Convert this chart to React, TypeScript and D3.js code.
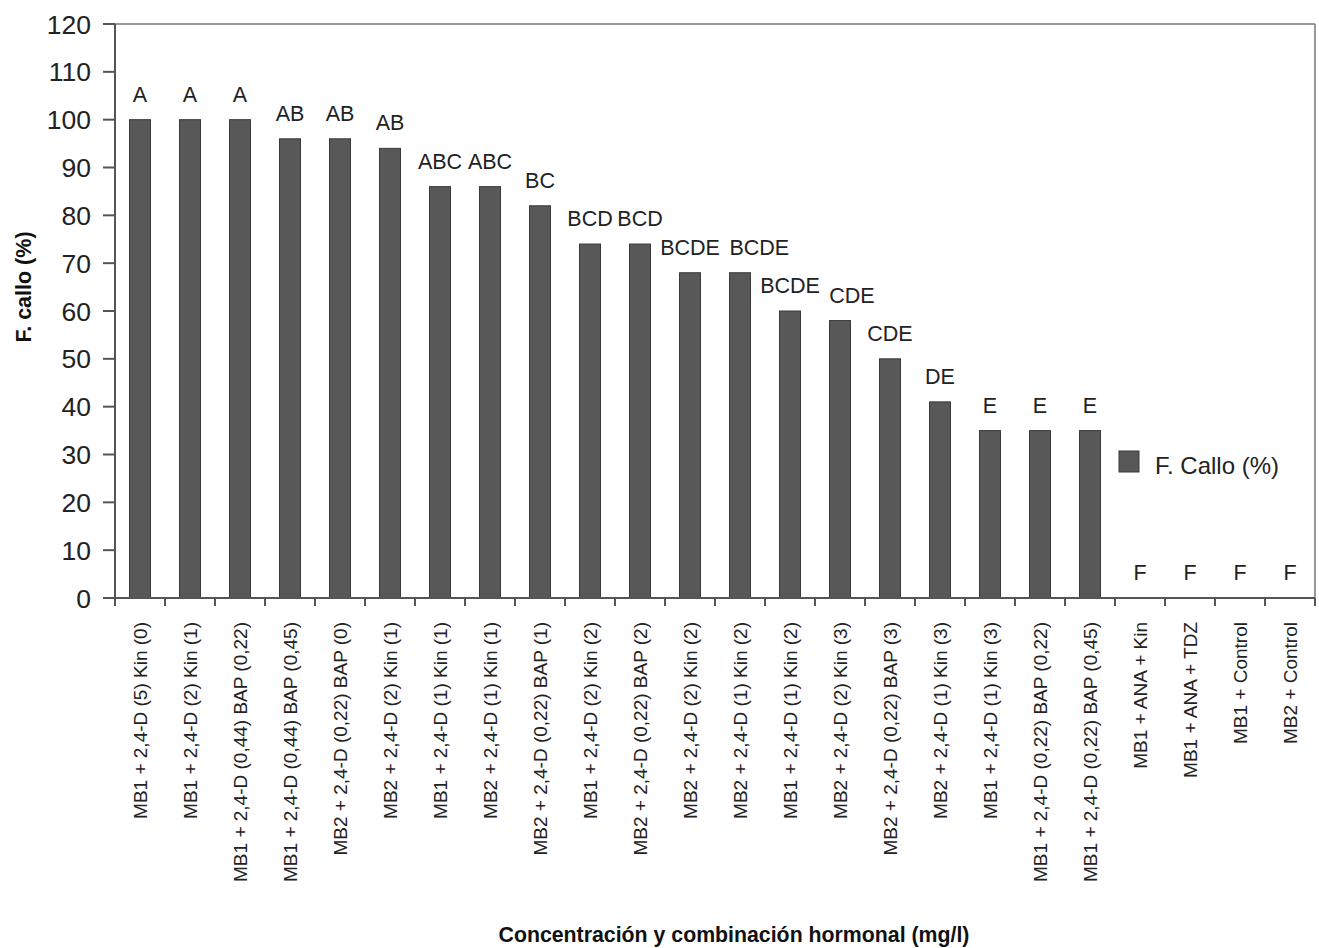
import React from "react";
import * as d3 from "d3";

const categories = [
  "MB1 + 2,4-D (5) Kin (0)",
  "MB1 + 2,4-D (2) Kin (1)",
  "MB1 + 2,4-D (0,44) BAP (0,22)",
  "MB1 + 2,4-D (0,44) BAP (0,45)",
  "MB2 + 2,4-D (0,22) BAP (0)",
  "MB2 + 2,4-D (2) Kin (1)",
  "MB1 + 2,4-D (1) Kin (1)",
  "MB2 + 2,4-D (1) Kin (1)",
  "MB2 + 2,4-D (0,22) BAP (1)",
  "MB1 + 2,4-D (2) Kin (2)",
  "MB2 + 2,4-D (0,22) BAP (2)",
  "MB2 + 2,4-D (2) Kin (2)",
  "MB2 + 2,4-D (1) Kin (2)",
  "MB1 + 2,4-D (1) Kin (2)",
  "MB2 + 2,4-D (2) Kin (3)",
  "MB2 + 2,4-D (0,22) BAP (3)",
  "MB2 + 2,4-D (1) Kin (3)",
  "MB1 + 2,4-D (1) Kin (3)",
  "MB1 + 2,4-D (0,22) BAP (0,22)",
  "MB1 + 2,4-D (0,22) BAP (0,45)",
  "MB1 + ANA + Kin",
  "MB1 + ANA + TDZ",
  "MB1 + Control",
  "MB2 + Control",
];

const values = [100, 100, 100, 96, 96, 94, 86, 86, 82, 74, 74, 68, 68, 60, 58, 50, 41, 35, 35, 35, 0, 0, 0, 0];

const letters = ["A", "A", "A", "AB", "AB", "AB", "ABC", "ABC", "BC", "BCD", "BCD", "BCDE", "BCDE", "BCDE", "CDE", "CDE", "DE", "E", "E", "E", "F", "F", "F", "F"];

const yTicks = [0, 10, 20, 30, 40, 50, 60, 70, 80, 90, 100, 110, 120];

const seriesName = "F. Callo (%)";
const yTitle = "F. callo (%)";
const xTitle = "Concentración y combinación hormonal (mg/l)";

const W = 1319;
const H = 948;
const left = 115;
const right = 1315;
const top = 24;
const bottom = 598;
const font = "'Liberation Sans', Arial, sans-serif";
const letterSize = 21.5;

export default function App() {
  const x = d3.scaleBand<string>().domain(categories).range([left, right]).paddingInner(0.58).paddingOuter(0.29);
  const y = d3.scaleLinear().domain([0, 120]).range([bottom, top]);
  const step = x.step();
  const boundaries = d3.range(categories.length + 1).map((i) => left + i * step);
  const axisColor = "#555";

  // simple collision avoidance for the significance letters
  const placed: { cx: number; y: number; w: number }[] = [];
  categories.forEach((c, i) => {
    const w = letters[i].length * 0.69 * letterSize;
    let cx = (x(c) as number) + x.bandwidth() / 2;
    const ly = y(values[i]) - 18;
    const prev = placed[i - 1];
    if (prev && Math.abs(prev.y - ly) < letterSize) {
      const prevRight = prev.cx + prev.w / 2;
      if (cx - w / 2 < prevRight + 4) cx = prevRight + 10 + w / 2;
    }
    placed.push({ cx, y: ly, w });
  });

  return (
    <svg width={W} height={H} style={{ position: "absolute", left: 0, top: 0, background: "#fff" }} fontFamily={font}>
      <rect x={0} y={0} width={W} height={H} fill="#fff" />
      {/* plot frame */}
      <line x1={left} x2={right} y1={top} y2={top} stroke="#777" strokeWidth={1.5} />
      <line x1={right} x2={right} y1={top} y2={bottom} stroke="#777" strokeWidth={1.5} />
      {/* bars */}
      {categories.map((c, i) => (
        <rect
          key={c}
          x={x(c)}
          y={y(values[i])}
          width={x.bandwidth()}
          height={bottom - y(values[i])}
          fill="#585858"
          stroke="#3a3a3a"
          strokeWidth={1}
        />
      ))}
      {/* letters */}
      {categories.map((c, i) => (
        <text key={"l" + c} x={placed[i].cx} y={placed[i].y} textAnchor="middle" fontSize={letterSize} fill="#222">
          {letters[i]}
        </text>
      ))}
      {/* y axis */}
      <line x1={left} x2={left} y1={top} y2={bottom} stroke={axisColor} strokeWidth={2} />
      {yTicks.map((t) => (
        <g key={"y" + t}>
          <line x1={103} x2={left} y1={y(t)} y2={y(t)} stroke={axisColor} strokeWidth={2} />
          <text x={91} y={y(t)} dy="0.36em" textAnchor="end" fontSize={26.5} fill="#222">
            {t}
          </text>
        </g>
      ))}
      {/* x axis */}
      <line x1={left} x2={right} y1={bottom} y2={bottom} stroke={axisColor} strokeWidth={2} />
      {boundaries.map((b, i) => (
        <line key={"xt" + i} x1={b} x2={b} y1={bottom} y2={bottom + 8} stroke={axisColor} strokeWidth={2} />
      ))}
      {categories.map((c) => {
        const cx = (x(c) as number) + x.bandwidth() / 2;
        return (
          <text
            key={"c" + c}
            transform={`translate(${cx},622) rotate(-90)`}
            dy="0.35em"
            textAnchor="end"
            fontSize={19}
            fill="#222"
          >
            {c}
          </text>
        );
      })}
      {/* titles */}
      <text
        transform={`translate(23,287) rotate(-90)`}
        dy="0.35em"
        textAnchor="middle"
        fontSize={21.5}
        fontWeight="bold"
        fill="#111"
      >
        {yTitle}
      </text>
      <text x={734} y={942} textAnchor="middle" fontSize={21.3} fontWeight="bold" fill="#111">
        {xTitle}
      </text>
      {/* legend */}
      <rect x={1119} y={451} width={20} height={21} fill="#585858" stroke="#3a3a3a" strokeWidth={1} />
      <text x={1155} y={474} fontSize={24} fill="#222">
        {seriesName}
      </text>
    </svg>
  );
}
